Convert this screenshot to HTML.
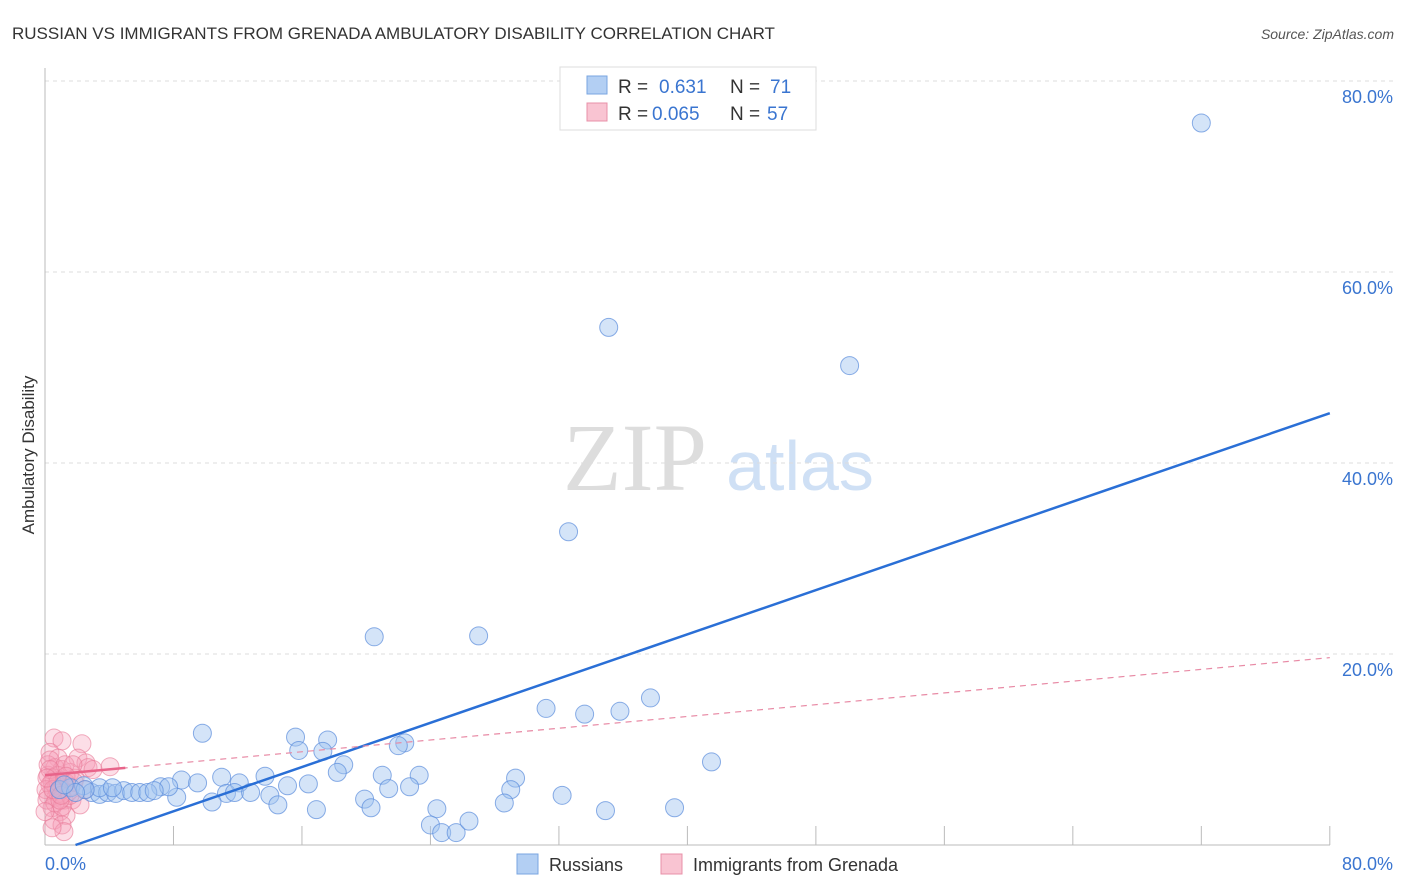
<!DOCTYPE html>
<html><head><meta charset="utf-8"><style>
body{margin:0;background:#fff;font-family:"Liberation Sans",sans-serif;}
svg{display:block}
</style></head><body>
<svg id="c" width="1406" height="892">
<text x="12" y="39" font-size="17" fill="#333">RUSSIAN VS IMMIGRANTS FROM GRENADA AMBULATORY DISABILITY CORRELATION CHART</text>
<text x="1394" y="39" font-size="14" fill="#555" font-style="italic" text-anchor="end">Source: ZipAtlas.com</text>
<text transform="translate(34,455) rotate(-90)" font-size="17" fill="#333" text-anchor="middle">Ambulatory Disability</text>
<g><text x="635" y="490" font-size="96" fill="#ddd" font-family="Liberation Serif" text-anchor="middle">ZIP</text><text x="800" y="490" font-size="70" fill="#cfe0f5" text-anchor="middle">atlas</text></g>
<g id="grid"></g><g id="marks"></g>
<g>
<rect x="560" y="67" width="256" height="63" fill="#fff" stroke="#ddd"/>
<rect x="587" y="76" width="20" height="18" fill="#b3cff3" stroke="#7aa6e0"/>
<text x="618" y="93" font-size="19" fill="#333">R = </text><text x="659" y="93" font-size="19" fill="#3a75d0">0.631</text>
<text x="730" y="93" font-size="19" fill="#333">N = </text><text x="770" y="93" font-size="19" fill="#3a75d0">71</text>
<rect x="587" y="103" width="20" height="18" fill="#f9c4d2" stroke="#e890a8"/>
<text x="618" y="120" font-size="19" fill="#333">R = </text><text x="652" y="120" font-size="19" fill="#3a75d0">0.065</text>
<text x="730" y="120" font-size="19" fill="#333">N = </text><text x="767" y="120" font-size="19" fill="#3a75d0">57</text>
</g>
<g>
<rect x="517" y="854" width="21" height="20" fill="#b3cff3" stroke="#7aa6e0"/>
<text x="549" y="871" font-size="18" fill="#333">Russians</text>
<rect x="661" y="854" width="21" height="20" fill="#f9c4d2" stroke="#e890a8"/>
<text x="693" y="871" font-size="18" fill="#333">Immigrants from Grenada</text>
</g>
</svg>
<script>
const yTicks=[20,40,60,80];
const yTickLabels=["20.0%","40.0%","60.0%","80.0%"];
const xTicks=[0,8,16,24,32,40,48,56,64,72,80];
const blueX=[72.0,35.1,50.1,32.6,20.5,27.0,37.7,31.2,33.6,35.8,9.8,15.6,17.6,15.8,17.3,22.4,22.0,41.5,18.6,18.2,13.7,11.0,21.0,23.3,29.3,12.1,8.5,9.5,15.1,16.4,21.4,22.7,29.0,11.3,11.8,12.8,14.0,8.2,7.2,7.7,32.2,19.9,28.6,10.4,14.5,20.3,16.9,24.4,34.9,39.2,24.0,24.7,25.6,26.4,0.9,1.6,2.4,2.9,3.4,3.9,4.4,4.9,5.4,5.9,6.4,6.8,3.4,2.5,1.9,1.2,4.2];
const blueY=[75.6,54.2,50.2,32.8,21.8,21.9,15.4,14.3,13.7,14.0,11.7,11.3,11.0,9.9,9.8,10.7,10.4,8.7,8.4,7.6,7.2,7.1,7.3,7.3,7.0,6.5,6.8,6.5,6.2,6.4,5.9,6.1,5.8,5.4,5.5,5.5,5.2,5.0,6.1,6.1,5.2,4.8,4.4,4.5,4.2,3.9,3.7,3.8,3.6,3.9,2.1,1.3,1.3,2.5,5.8,6.0,6.2,5.5,5.3,5.5,5.4,5.7,5.5,5.5,5.5,5.7,6.0,5.8,5.5,6.3,6.0];
const pinkX=[0.56,1.06,2.3,0.31,0.81,2.05,2.55,0.19,0.62,1.06,1.56,0.19,0.56,0.93,1.31,0.31,0.68,1.06,1.43,0.19,0.68,1.18,1.68,2.18,0.44,0.93,1.31,0.56,1.06,1.18,2.68,4.05,2.99,0.75,0.44,0.06,0.81,1.56,1.87,0.31,1.25,1.74,0.12,0.62,1.06,0,1.56,2.49,0.44,0.93,0.31,0.81,1.31,1.81,0.5,1.0,0.12];
const pinkY=[11.2,10.9,10.6,9.7,9.1,9.1,8.6,8.4,8.1,7.9,7.6,7.3,7.0,6.8,6.5,6.3,6.0,5.8,5.5,5.2,5.0,4.7,4.7,4.2,3.9,3.5,3.1,2.6,2.1,1.4,8.1,8.2,7.9,7.3,6.6,5.8,5.4,6.1,7.0,8.9,8.4,8.4,4.7,4.4,4.0,3.5,5.2,5.8,1.8,4.7,7.9,6.6,7.2,6.6,5.8,5.2,7.0];
const blueFit=[-1.1,0.579];
const pinkFit=[7.3,0.154];
const X=v=>45+v*16.06, Y=v=>845-v*9.55;
const NS="http://www.w3.org/2000/svg";
function mk(t,a,p){const e=document.createElementNS(NS,t);for(const k in a)e.setAttribute(k,a[k]);p.appendChild(e);return e;}
const g=document.getElementById('grid'),m=document.getElementById('marks');
yTicks.forEach((v,i)=>{
 const l=mk('line',{x1:45,x2:1393,y1:Y(v),y2:Y(v),stroke:'#ddd','stroke-dasharray':'4,4'},g);
 
 
 const t=mk('text',{x:1393,y:Y(v)+22,'font-size':18,fill:'#3a75d0','text-anchor':'end'},g);t.textContent=yTickLabels[i];
 
 
});
mk('line',{x1:45,x2:45,y1:68,y2:845,stroke:'#bbb'},g);
mk('line',{x1:45,x2:1330,y1:845,y2:845,stroke:'#bbb'},g);
xTicks.forEach(v=>{const l=mk('line',{x1:X(v),x2:X(v),y1:826,y2:845,stroke:'#bbb'},g);
 
 });
let t=mk('text',{x:45,y:870,'font-size':18,fill:'#3a75d0'},g);t.textContent="0.0%";


t=mk('text',{x:1393,y:870,'font-size':18,fill:'#3a75d0','text-anchor':'end'},g);t.textContent="80.0%";


pinkX.forEach((x,i)=>{const c=mk('circle',{cx:X(x),cy:Y(pinkY[i]),r:9,fill:'rgba(246,160,185,0.35)',stroke:'rgba(232,120,150,0.6)'},m);
 
 });
blueX.forEach((x,i)=>{const c=mk('circle',{cx:X(x),cy:Y(blueY[i]),r:9,fill:'rgba(160,196,240,0.45)',stroke:'rgba(90,140,220,0.7)'},m);
 
 });
const x0=-blueFit[0]/blueFit[1];
let l=mk('line',{x1:X(x0),y1:Y(0),x2:X(80),y2:Y(blueFit[0]+blueFit[1]*80),stroke:'#2a6fd6','stroke-width':2.5},m);


l=mk('line',{x1:X(0),y1:Y(pinkFit[0]),x2:X(80),y2:Y(pinkFit[0]+pinkFit[1]*80),stroke:'#e88aa5','stroke-width':1.2,'stroke-dasharray':'6,5'},m);


l=mk('line',{x1:X(0),y1:Y(pinkFit[0]),x2:X(5),y2:Y(pinkFit[0]+pinkFit[1]*5),stroke:'#e8648a','stroke-width':2.5},m);


</script>
</body></html>
